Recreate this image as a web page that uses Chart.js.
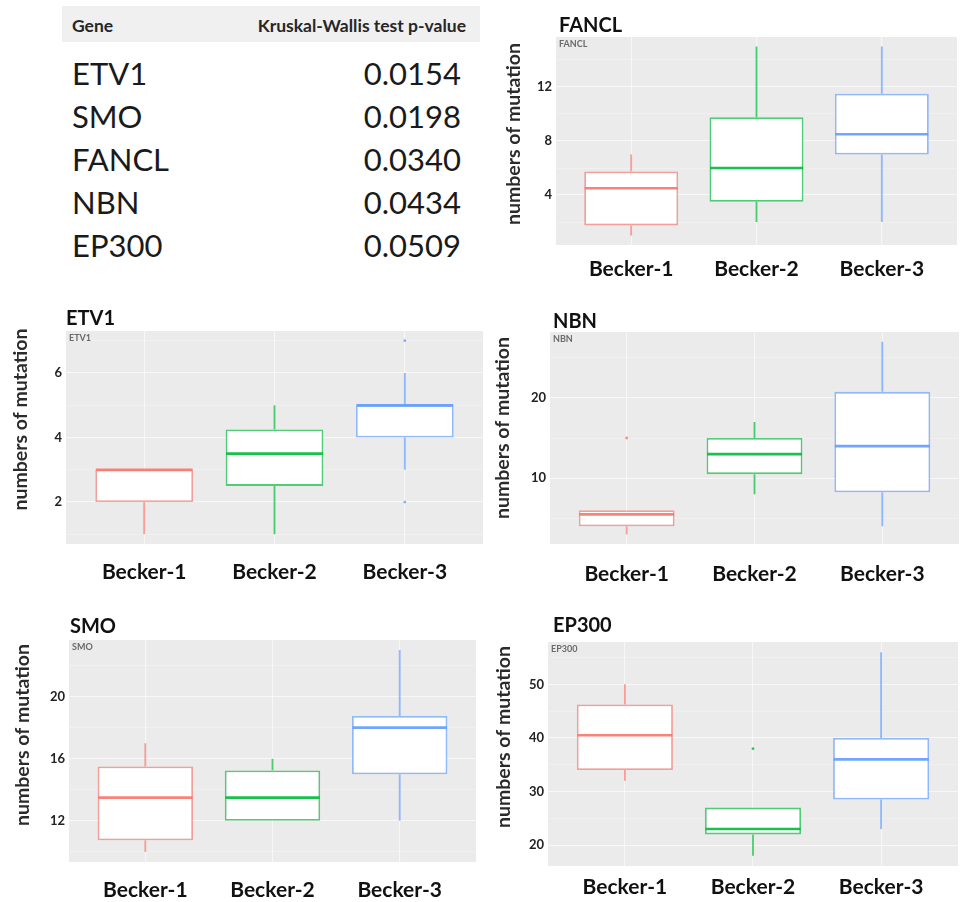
<!DOCTYPE html>
<html>
<head>
<meta charset="utf-8">
<script src="https://cdn.jsdelivr.net/npm/chart.js@4.4.0/dist/chart.umd.min.js"></script>
<style>
  html, body { margin: 0; padding: 0; background: #fff; width: 963px; height: 902px; overflow: hidden; }
  body { position: relative; font-family: Lato, "Open Sans", sans-serif; color: #1a1a1a; }
  canvas { position: absolute; }
  #pTable { position: absolute; left: 62px; top: 6px; width: 418px; }
  #pTable .head { height: 36px; background: #F0F0F0; position: relative; font-weight: bold; font-size: 17.5px; color: #262626; }
  #pTable .head span { position: absolute; top: 9px; line-height: 22px; }
  #pTable .row { position: relative; height: 43px; line-height: 43px; font-size: 31px; }
  #pTable .row .g { position: absolute; left: 10px; }
  #pTable .row .p { position: absolute; right: 19px; }
</style>
</head>
<body>
<div id="pTable">
  <div class="head"><span style="left:10px">Gene</span><span style="right:14px">Kruskal-Wallis test p-value</span></div>
  <div id="rows" style="margin-top:10px"></div>
</div>
<canvas id="cFANCL"></canvas>
<canvas id="cETV1"></canvas>
<canvas id="cNBN"></canvas>
<canvas id="cSMO"></canvas>
<canvas id="cEP300"></canvas>
<script>
// ---- groups and test results ----
const groups = ['Becker-1', 'Becker-2', 'Becker-3'];
const geneNames = ['ETV1', 'SMO', 'FANCL', 'NBN', 'EP300'];
const pValues = [0.0154, 0.0198, 0.0340, 0.0434, 0.0509];

// ---- box statistics per group (whisker low, Q1, median, Q3, whisker high) ----
const etv1Low = [1, 1, 3];
const etv1Q1 = [2, 2.5, 4];
const etv1Median = [3, 3.5, 5];
const etv1Q3 = [3, 4.25, 5];
const etv1High = [3, 5, 6];
const etv1Outliers = [[], [], [2, 7]];
const etv1Ticks = [2, 4, 6];

const smoLow = [10, 12, 12];
const smoQ1 = [10.75, 12, 15];
const smoMedian = [13.5, 13.5, 18];
const smoQ3 = [15.5, 15.25, 18.75];
const smoHigh = [17, 16, 23];
const smoOutliers = [[], [], []];
const smoTicks = [12, 16, 20];

const fanclLow = [1, 2, 2];
const fanclQ1 = [1.75, 3.5, 7];
const fanclMedian = [4.5, 6, 8.5];
const fanclQ3 = [5.75, 9.75, 11.5];
const fanclHigh = [7, 15, 15];
const fanclOutliers = [[], [], []];
const fanclTicks = [4, 8, 12];

const nbnLow = [3, 8, 4];
const nbnQ1 = [4, 10.5, 8.25];
const nbnMedian = [5.5, 13, 14];
const nbnQ3 = [6, 15, 20.75];
const nbnHigh = [6, 17, 27];
const nbnOutliers = [[15], [], []];
const nbnTicks = [10, 20];

const ep300Low = [32, 18, 23];
const ep300Q1 = [34, 22, 28.5];
const ep300Median = [40.5, 23, 36];
const ep300Q3 = [46.25, 27, 40];
const ep300High = [50, 27, 56];
const ep300Outliers = [[], [38], []];
const ep300Ticks = [20, 30, 40, 50];

// ggplot-style hue palette
const groupColors = ['#F8766D', '#00BA38', '#619CFF'];

// ---- p-value table ----
const rowsEl = document.getElementById('rows');
geneNames.forEach((g, i) => {
  const r = document.createElement('div');
  r.className = 'row';
  r.innerHTML = '<span class="g">' + g + '</span><span class="p">' + pValues[i].toFixed(4) + '</span>';
  rowsEl.appendChild(r);
});

function rgba(hex, a) {
  const n = parseInt(hex.slice(1), 16);
  return 'rgba(' + (n >> 16) + ',' + ((n >> 8) & 255) + ',' + (n & 255) + ',' + a + ')';
}

const FONT = 'Lato, "Open Sans", sans-serif';
const PAD_TOP = 30, AXIS_W = 62, AXIS_H = 50;

// draws the panel background, whiskers, medians, titles
const boxPlugin = {
  id: 'boxParts',
  beforeDraw(chart) {
    const a = chart.chartArea, ctx = chart.ctx;
    ctx.save();
    ctx.fillStyle = '#EBEBEB';
    ctx.fillRect(a.left, a.top, a.right - a.left, a.bottom - a.top);
    ctx.restore();
  },
  beforeDatasetsDraw(chart) {
    const s = chart.config.options.plugins.boxParts;
    const x = chart.scales.x, y = chart.scales.y, ctx = chart.ctx;
    ctx.save();
    ctx.lineWidth = 1.8;
    s.low.forEach((v, i) => {
      const px = x.getPixelForValue(i + 1);
      ctx.strokeStyle = rgba(groupColors[i], 0.7);
      ctx.beginPath();
      ctx.moveTo(px, y.getPixelForValue(s.low[i]));
      ctx.lineTo(px, y.getPixelForValue(s.q1[i]));
      ctx.moveTo(px, y.getPixelForValue(s.q3[i]));
      ctx.lineTo(px, y.getPixelForValue(s.high[i]));
      ctx.stroke();
    });
    ctx.restore();
  },
  afterDatasetsDraw(chart) {
    const s = chart.config.options.plugins.boxParts;
    const x = chart.scales.x, y = chart.scales.y, ctx = chart.ctx;
    const bars = chart.getDatasetMeta(0).data;
    ctx.save();
    ctx.lineWidth = 2.7;
    s.median.forEach((m, i) => {
      const px = x.getPixelForValue(i + 1), half = bars[i].width / 2;
      const py = y.getPixelForValue(m);
      ctx.strokeStyle = rgba(groupColors[i], 0.9);
      ctx.beginPath();
      ctx.moveTo(px - half + 0.5, py);
      ctx.lineTo(px + half - 0.5, py);
      ctx.stroke();
    });
    const a = chart.chartArea;
    // small facet label inside the panel
    ctx.fillStyle = '#6a6a6a';
    ctx.font = 'bold 9px ' + FONT;
    ctx.textBaseline = 'alphabetic';
    ctx.textAlign = 'left';
    ctx.fillText(s.name, a.left + 3, a.top + 10);
    // panel title
    ctx.fillStyle = '#111';
    ctx.font = 'bold 20px ' + FONT;
    ctx.fillText(s.name, a.left + s.titleDx, a.top - s.titleGap);
    // y axis title
    ctx.translate(a.left - s.yTitleDx, (a.top + a.bottom) / 2 + s.yTitleDy);
    ctx.rotate(-Math.PI / 2);
    ctx.textAlign = 'center';
    ctx.textBaseline = 'middle';
    ctx.fillStyle = '#2b2b2b';
    ctx.font = 'bold 19.5px ' + FONT;
    ctx.fillText('numbers of mutation', 0, 0);
    ctx.restore();
  }
};

function makePanel(id, name, low, q1, median, q3, high, outliers, majorTicks, box) {
  const canvas = document.getElementById(id);
  const cw = box.R - box.L + AXIS_W + 2, ch = box.B - box.T + PAD_TOP + AXIS_H;
  canvas.width = cw; canvas.height = ch;
  canvas.style.left = (box.L - AXIS_W) + 'px';
  canvas.style.top = (box.T - PAD_TOP) + 'px';

  const all = low.concat(high, outliers.flat());
  const dMin = Math.min(...all), dMax = Math.max(...all);
  const ext = (dMax - dMin) * 0.05;
  const yMin = dMin - ext, yMax = dMax + ext;
  const step = majorTicks[1] - majorTicks[0];
  const gridVals = [];
  for (let v = majorTicks[0] - step * 4; v <= yMax; v += step / 2) {
    if (v >= yMin) gridVals.push(v);
  }

  const outlierPts = [];
  outliers.forEach((arr, i) => arr.forEach(v => outlierPts.push({ x: i + 1, y: v, c: groupColors[i] })));

  new Chart(canvas, {
    data: {
      datasets: [
        {
          type: 'bar',
          data: q1.map((v, i) => ({ x: i + 1, y: [v, q3[i]] })),
          backgroundColor: '#ffffff',
          borderColor: groupColors.map(c => rgba(c, 0.65)),
          borderWidth: 1.8,
          borderSkipped: false,
          barPercentage: 0.75,
          categoryPercentage: 1,
          grouped: false
        },
        {
          type: 'scatter',
          data: outlierPts,
          pointRadius: 1.4,
          pointBackgroundColor: outlierPts.map(p => rgba(p.c, 0.8)),
          pointBorderWidth: 0
        }
      ]
    },
    options: {
      responsive: false,
      animation: false,
      devicePixelRatio: 1,
      layout: { padding: { top: PAD_TOP, left: 0, right: 2, bottom: 0 } },
      plugins: {
        legend: { display: false },
        tooltip: { enabled: false },
        boxParts: { name, low, q1, median, q3, high, titleDx: box.titleDx, titleGap: box.titleGap, yTitleDx: box.yTitleDx, yTitleDy: box.yTitleDy }
      },
      scales: {
        x: {
          type: 'linear',
          min: 0.4, max: 3.6,
          offset: false,
          afterBuildTicks: s => { s.ticks = groups.map((g, i) => ({ value: i + 1 })); },
          afterFit: s => { s.height = AXIS_H; },
          ticks: {
            callback: v => groups[v - 1],
            color: '#111',
            font: { family: FONT, size: 21, weight: 'bold' },
            padding: box.xPad,
            maxRotation: 0, autoSkip: false
          },
          grid: { color: 'rgba(255,255,255,0.6)', lineWidth: 1.1, drawTicks: false, offset: false },
          border: { display: false }
        },
        y: {
          type: 'linear',
          min: yMin, max: yMax,
          afterBuildTicks: s => { s.ticks = gridVals.map(v => ({ value: v })); },
          afterFit: s => { s.width = AXIS_W; },
          ticks: {
            callback: v => (majorTicks.includes(v) ? String(v) : ''),
            color: '#222',
            font: { family: FONT, size: 13, weight: 'bold' },
            padding: 4,
            autoSkip: false
          },
          grid: {
            color: c => (c.tick && majorTicks.includes(c.tick.value) ? 'rgba(255,255,255,0.65)' : 'rgba(255,255,255,0.45)'),
            lineWidth: c => (c.tick && majorTicks.includes(c.tick.value) ? 1.1 : 0.6),
            drawTicks: false
          },
          border: { display: false }
        }
      }
    },
    plugins: [boxPlugin]
  });
}

makePanel('cFANCL', 'FANCL', fanclLow, fanclQ1, fanclMedian, fanclQ3, fanclHigh, fanclOutliers, fanclTicks,
  { L: 556, T: 37, R: 957, B: 245, titleDx: 3, titleGap: 5, yTitleDx: 42, yTitleDy: -7, xPad: 12 });
makePanel('cETV1', 'ETV1', etv1Low, etv1Q1, etv1Median, etv1Q3, etv1High, etv1Outliers, etv1Ticks,
  { L: 66, T: 331, R: 485, B: 544, titleDx: 0, titleGap: 6, yTitleDx: 45, yTitleDy: -18, xPad: 16 });
makePanel('cNBN', 'NBN', nbnLow, nbnQ1, nbnMedian, nbnQ3, nbnHigh, nbnOutliers, nbnTicks,
  { L: 550, T: 332, R: 961, B: 544, titleDx: 3, titleGap: 4, yTitleDx: 47, yTitleDy: -10, xPad: 18 });
makePanel('cSMO', 'SMO', smoLow, smoQ1, smoMedian, smoQ3, smoHigh, smoOutliers, smoTicks,
  { L: 69, T: 640, R: 476, B: 862, titleDx: 1, titleGap: 7, yTitleDx: 46, yTitleDy: -16, xPad: 16 });
makePanel('cEP300', 'EP300', ep300Low, ep300Q1, ep300Median, ep300Q3, ep300High, ep300Outliers, ep300Ticks,
  { L: 548, T: 642, R: 960, B: 866, titleDx: 5, titleGap: 10, yTitleDx: 44, yTitleDy: -17, xPad: 9 });
</script>
</body>
</html>
